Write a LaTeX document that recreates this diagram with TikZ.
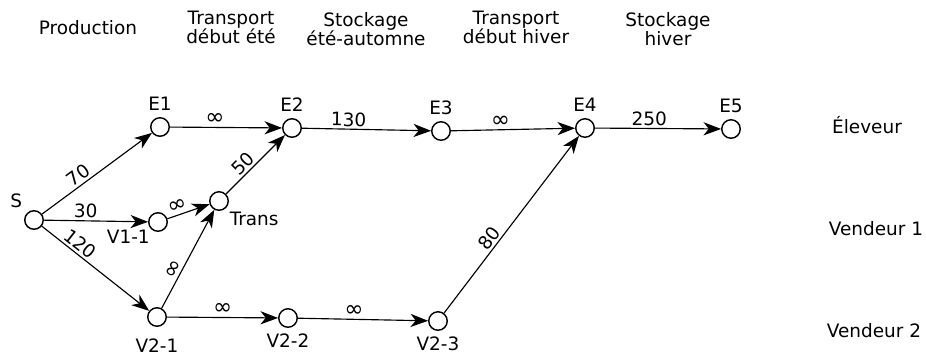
\documentclass[tikz,border=0pt]{standalone}
\usepackage{fontspec}
\setmainfont{DejaVu Sans}
\usetikzlibrary{arrows.meta}

\newcommand{\infsym}{{\fontsize{13}{13}\selectfont ∞}}

\begin{document}
\begin{tikzpicture}[x=0.02cm, y=-0.02cm,
  font=\fontsize{10.5}{10.8}\selectfont,
  vertex/.style={draw, circle, line width=0.8pt, minimum size=0.37cm, inner sep=0pt},
  flow/.style={-{Stealth[length=10pt, width=7.5pt, inset=3pt]}, line width=0.65pt},
  weight/.style={sloped, above, inner sep=1.2pt},
  head/.style={align=center}]

\useasboundingbox (0,0) rectangle (926,356);

% column titles
\node[head] (hprod) at (88,28) {Production};
\node[head] (htr1) at (231,27) {Transport\\début été};
\node[head] (hst1) at (366,29) {Stockage\\été-automne};
\node[head] (htr2) at (516,27) {Transport\\début hiver};
\node[head] (hst2) at (668,29) {Stockage\\hiver};

% row titles
\node (relev) at (867,125) {Éleveur};
\node (rv1) at (876,229) {Vendeur 1};
\node (rv2) at (874,331) {Vendeur 2};

% vertices
\node[vertex, label={[label distance=-1pt]above left:S}] (S) at (34,220) {};
\node[vertex, label=above:E1] (E1) at (160,127) {};
\node[vertex, label=above:E2] (E2) at (292,128) {};
\node[vertex, label=above:E3] (E3) at (441,131) {};
\node[vertex, label=above:E4] (E4) at (585,128) {};
\node[vertex, label=above:E5] (E5) at (731,129) {};
\node[vertex, label={[label distance=-4pt]below left:V1-1}] (V11) at (158,222) {};
\node[vertex, label={[label distance=-2pt]below right:Trans}] (T) at (219,201) {};
\node[vertex, label={[label distance=3pt]below:V2-1}] (V21) at (157,317) {};
\node[vertex, label=below:V2-2] (V22) at (288,318) {};
\node[vertex, label=below:V2-3] (V23) at (438,321) {};

% arcs
\draw[flow] (S) -- node[weight, pos=0.38] {70} (E1);
\draw[flow] (S) -- node[weight, pos=0.4] {30} (V11);
\draw[flow] (S) -- node[weight, pos=0.3] {120} (V21);
\draw[flow] (E1) -- node[weight, pos=0.4] {\infsym} (E2);
\draw[flow] (V11) -- node[weight, pos=0.3] {\infsym} (T);
\draw[flow] (V21) -- node[weight, pos=0.36, inner sep=0.5pt] {\infsym} (T);
\draw[flow] (T) -- node[weight, pos=0.4] {50} (E2);
\draw[flow] (V21) -- node[weight, pos=0.5] {\infsym} (V22);
\draw[flow] (E2) -- node[weight, pos=0.36] {130} (E3);
\draw[flow] (E3) -- node[weight, pos=0.4] {\infsym} (E4);
\draw[flow] (V22) -- node[weight, pos=0.43] {\infsym} (V23);
\draw[flow] (V23) -- node[weight, pos=0.39] {80} (E4);
\draw[flow] (E4) -- node[weight, pos=0.43] {250} (E5);
\end{tikzpicture}
\end{document}
